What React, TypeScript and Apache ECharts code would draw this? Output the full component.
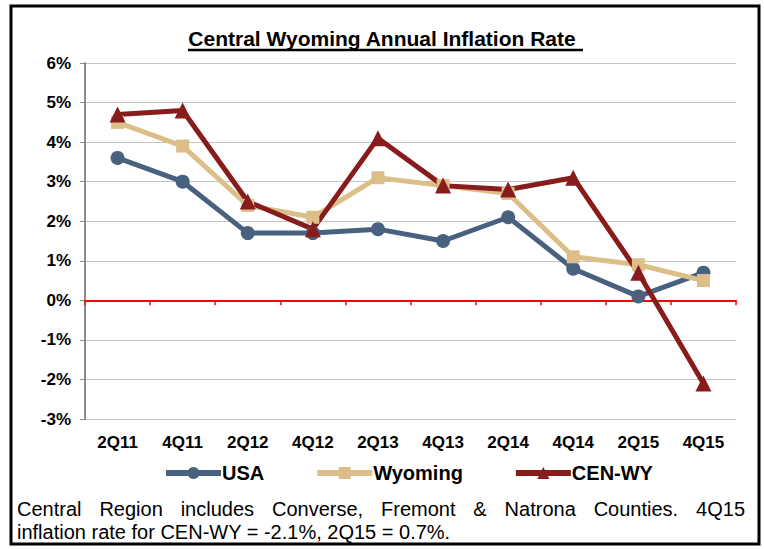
import React, { useEffect, useRef } from "react";
import * as echarts from "echarts";

const categories = ["2Q11", "4Q11", "2Q12", "4Q12", "2Q13", "4Q13", "2Q14", "4Q14", "2Q15", "4Q15"];
const usa = [3.6, 3.0, 1.7, 1.7, 1.8, 1.5, 2.1, 0.8, 0.1, 0.7];
const wyoming = [4.5, 3.9, 2.4, 2.1, 3.1, 2.9, 2.7, 1.1, 0.9, 0.5];
const cenWy = [4.7, 4.8, 2.5, 1.8, 4.1, 2.9, 2.8, 3.1, 0.7, -2.1];

const titleText = "Central Wyoming Annual Inflation Rate";
const noteLine1 = "Central Region includes Converse, Fremont & Natrona Counties.  4Q15";
const noteLine2 = "inflation rate for CEN-WY = -2.1%, 2Q15 = 0.7%.";

const FONT = "Liberation Sans, Arial, sans-serif";
const NOTE_FONT = `20px ${FONT}`;

function justifiedWords(line: string, x0: number, x1: number, y: number) {
  const canvas = document.createElement("canvas");
  const ctx = canvas.getContext("2d")!;
  ctx.font = NOTE_FONT;
  const words = line.split(/\s+/);
  const widths = words.map((w) => ctx.measureText(w).width);
  const total = widths.reduce((a, b) => a + b, 0);
  const gap = (x1 - x0 - total) / (words.length - 1);
  let x = x0;
  return words.map((w, i) => {
    const el = { type: "text", x, y, style: { text: w, font: NOTE_FONT, fill: "#000", textVerticalAlign: "middle" } };
    x += widths[i] + gap;
    return el;
  });
}

export default function App() {
  const ref = useRef<HTMLDivElement>(null);
  useEffect(() => {
    if (!ref.current) return;
    const chart = echarts.init(ref.current, null, { renderer: "svg" });
    const mk = (name: string, data: number[], color: string, symbol: string, size: number) => ({
      name,
      type: "line",
      data,
      xAxisIndex: 0,
      symbol,
      symbolSize: size,
      lineStyle: { color, width: 5 },
      itemStyle: { color },
      z: 3,
    });
    chart.setOption({
      animation: false,
      backgroundColor: "#ffffff",
      textStyle: { fontFamily: FONT },
      title: {
        text: titleText,
        left: "center",
        top: 23,
        textStyle: { fontSize: 21, fontWeight: "bold", color: "#000", fontFamily: FONT },
      },
      grid: { left: 85, right: 28, top: 63, bottom: 130, containLabel: false },
      legend: {
        left: 158,
        top: 458,
        itemWidth: 55,
        itemHeight: 15,
        itemGap: 50,
        lineStyle: { width: 6 },
        textStyle: { fontSize: 20, fontWeight: "bold", color: "#000", fontFamily: FONT, padding: [0, 0, 0, -4] },
        data: ["USA", "Wyoming", "CEN-WY"],
      },
      xAxis: [
        {
          type: "category",
          data: categories,
          position: "bottom",
          axisLine: { show: false, onZero: false },
          axisTick: { show: false },
          axisLabel: { fontSize: 17, fontWeight: "bold", color: "#000", margin: 15, fontFamily: FONT },
          splitLine: { show: false },
        },
        {
          type: "category",
          data: categories,
          position: "bottom",
          axisLine: { show: true, onZero: true, lineStyle: { color: "#ff0000", width: 2 } },
          axisTick: { show: true, length: 5, lineStyle: { color: "#ff0000", width: 1.5 } },
          axisLabel: { show: false },
          splitLine: { show: false },
        },
      ],
      yAxis: {
        type: "value",
        min: -3,
        max: 6,
        interval: 1,
        axisLine: { show: true, lineStyle: { color: "#8c8c8c", width: 2 } },
        axisTick: { show: true, length: 5, lineStyle: { color: "#8c8c8c" } },
        axisLabel: { formatter: "{value}%", fontSize: 17, fontWeight: "bold", color: "#000", margin: 14, fontFamily: FONT },
        splitLine: { show: true, lineStyle: { color: "#c4c4c4", width: 1 } },
      },
      series: [
        mk("USA", usa, "#48617f", "circle", 14),
        mk("Wyoming", wyoming, "#dcbf88", "rect", 13),
        mk("CEN-WY", cenWy, "#881b1b", "triangle", 16),
      ],
      graphic: [
        {
          type: "rect",
          shape: { x: 11, y: 6, width: 748, height: 538 },
          style: { fill: "none", stroke: "#000", lineWidth: 3 },
          silent: true,
        },
        {
          type: "line",
          shape: { x1: 188, y1: 50, x2: 583, y2: 50 },
          style: { stroke: "#000", lineWidth: 2.5 },
        },
        ...justifiedWords(noteLine1, 17, 745, 509),
        {
          type: "text",
          x: 17,
          y: 532,
          style: { text: noteLine2, font: NOTE_FONT, fill: "#000", textVerticalAlign: "middle" },
        },
      ],
    });
    return () => chart.dispose();
  }, []);
  return <div ref={ref} style={{ position: "fixed", left: 0, top: 0, width: 764, height: 549 }} />;
}
